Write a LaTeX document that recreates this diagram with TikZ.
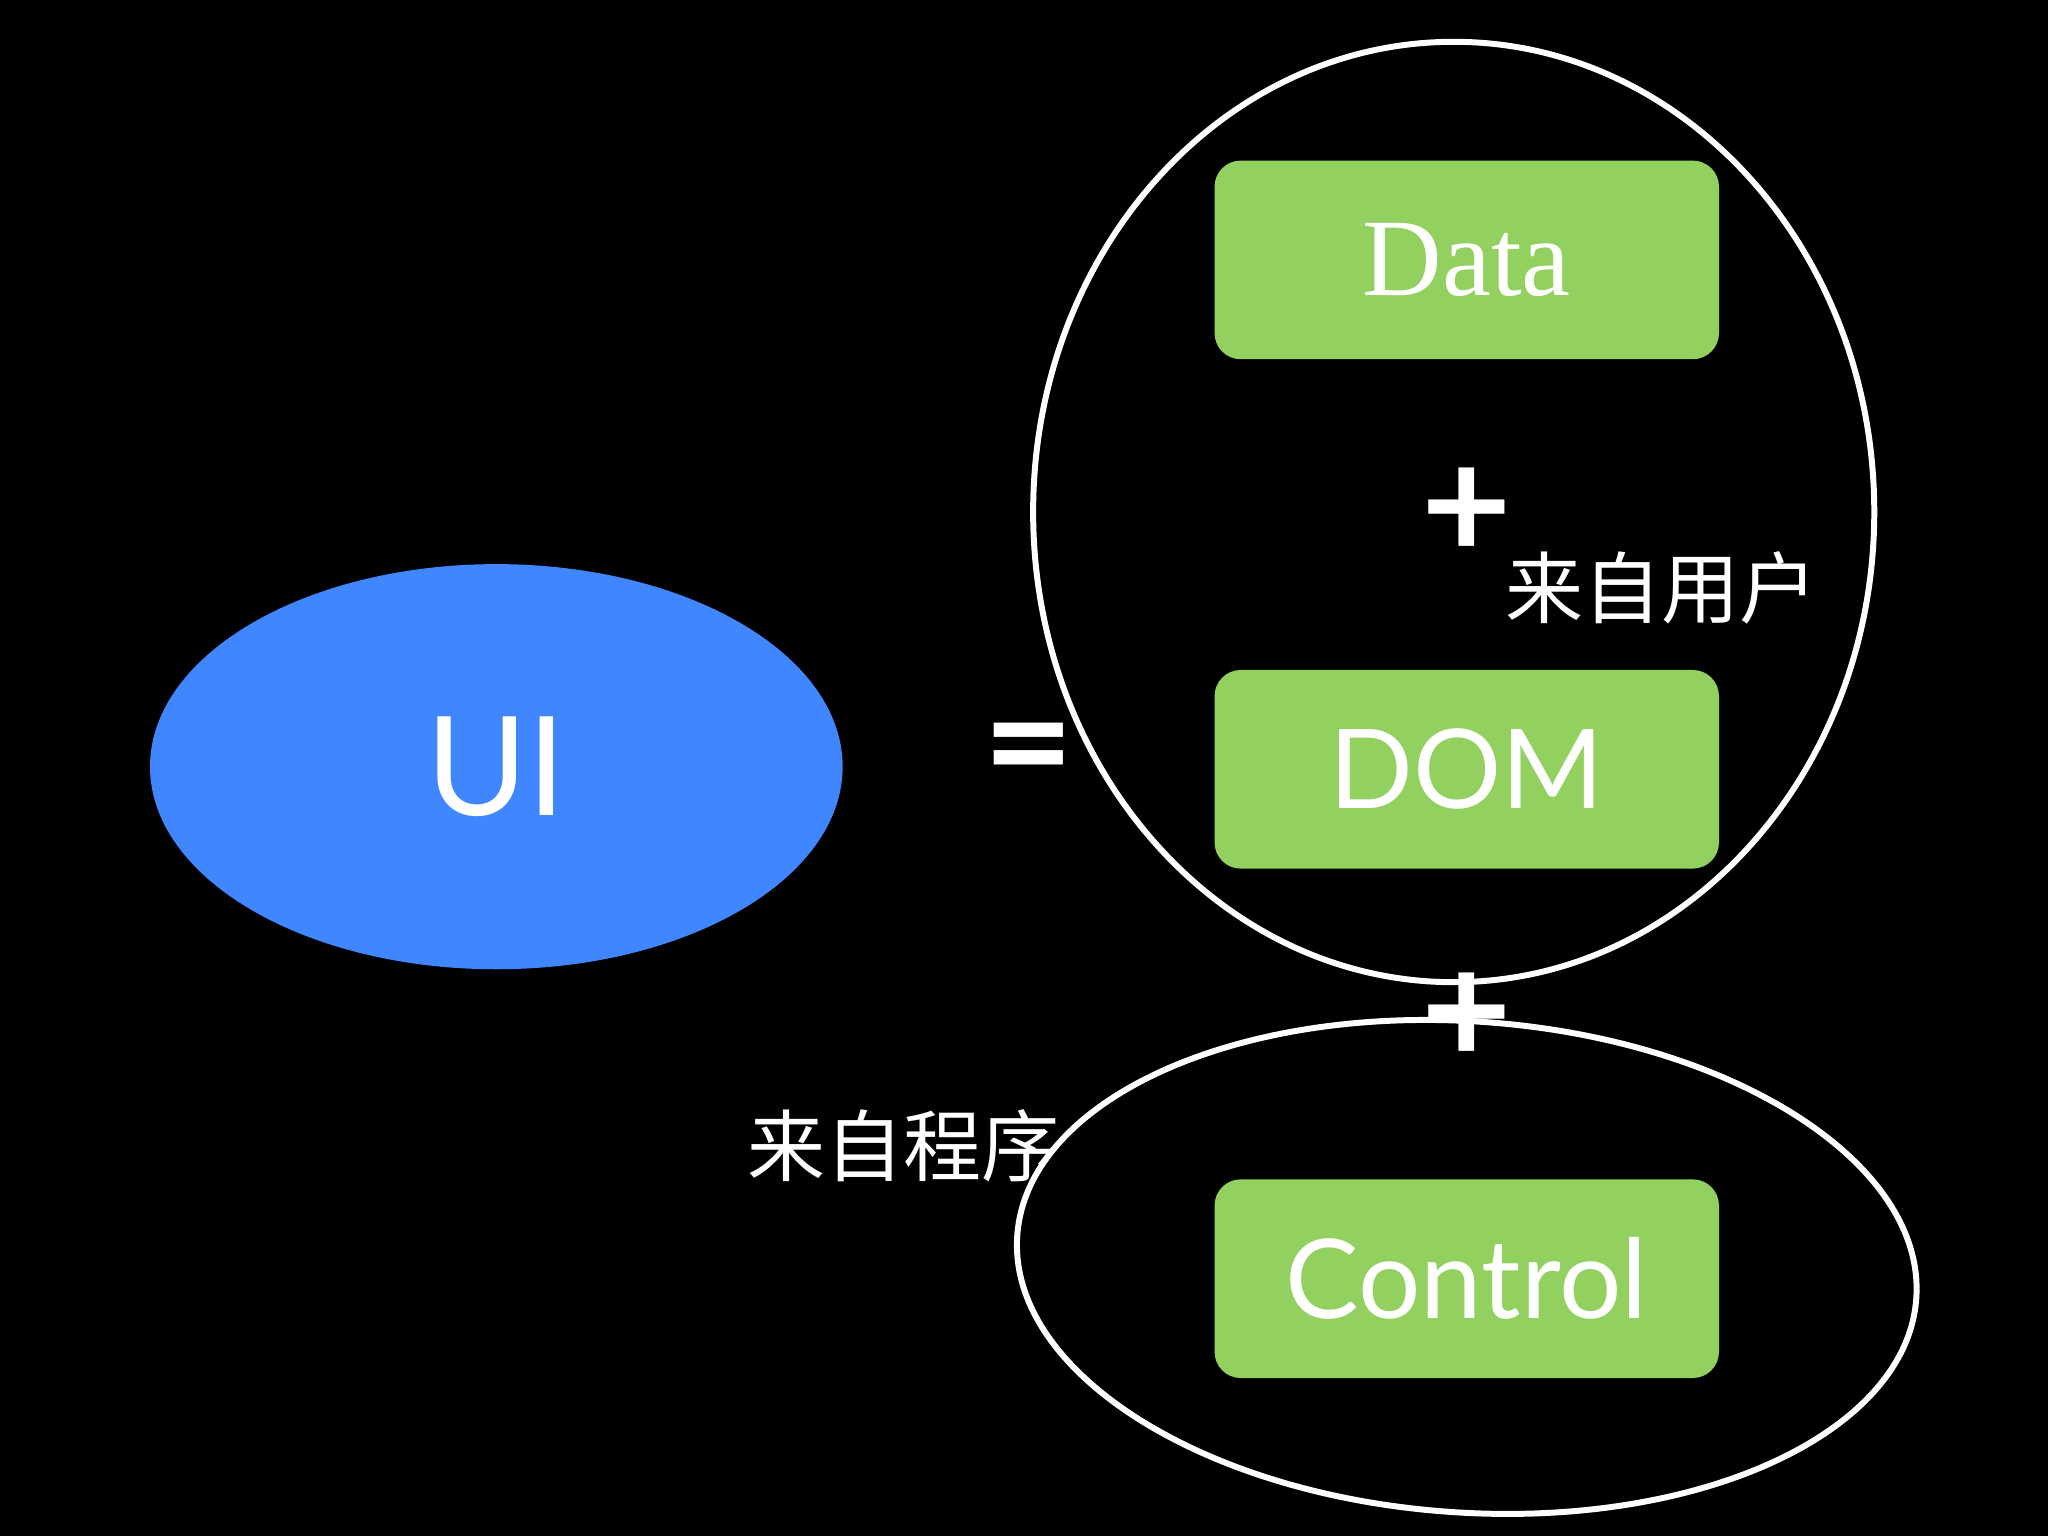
\documentclass[tikz,border=0pt]{standalone}
\usepackage{fontspec}
\usetikzlibrary{shapes.geometric}
\setmainfont{Lato}
\newfontfamily\cjk{Noto Sans CJK SC}
\newfontfamily\serifx{Liberation Serif}
\begin{document}
\begin{tikzpicture}[x=0.01cm,y=-0.01cm,
  box/.style={fill={rgb,255:red,146;green,208;blue,96},rounded corners=0.2cm,minimum width=3.86cm,minimum height=1.52cm,text=white,font=\fontsize{24}{28}\selectfont},
  hand/.style={draw=white,line width=1.3pt},
  lab/.style={text=white,font=\cjk\fontsize{17}{20}\selectfont}]
\fill[black] (0,0) rectangle (1568,1176);
\node[ellipse,fill={rgb,255:red,63;green,134;blue,255},minimum width=5.3cm,minimum height=3.1cm,text=white,font=\fontsize{30}{34}\selectfont] (ui) at (380,587) {UI};
\node[text=white,font=\fontsize{34}{36}\selectfont\bfseries] (eq) at (788,582) {=};
\node[box,font=\serifx\fontsize{24}{28}\selectfont] (data) at (1123,199) {Data};
\node[box] (dom) at (1123,589) {DOM};
\node[box] (ctrl) at (1123,979) {Control};
\draw[hand] (1113,392) ellipse [x radius=322,y radius=360];
\draw[hand,rotate around={-4:(1123,970)}] (1123,970) ellipse [x radius=345,y radius=188];
\node[text=white,font=\fontsize{34}{36}\selectfont\bfseries] (p1) at (1123,393) {+};
\node[text=white,font=\fontsize{34}{36}\selectfont\bfseries] (p2) at (1123,780) {+};
\node[lab] (u) at (1272,450) {来自用户};
\node[lab] (c) at (692,877) {来自程序};
\end{tikzpicture}
\end{document}
